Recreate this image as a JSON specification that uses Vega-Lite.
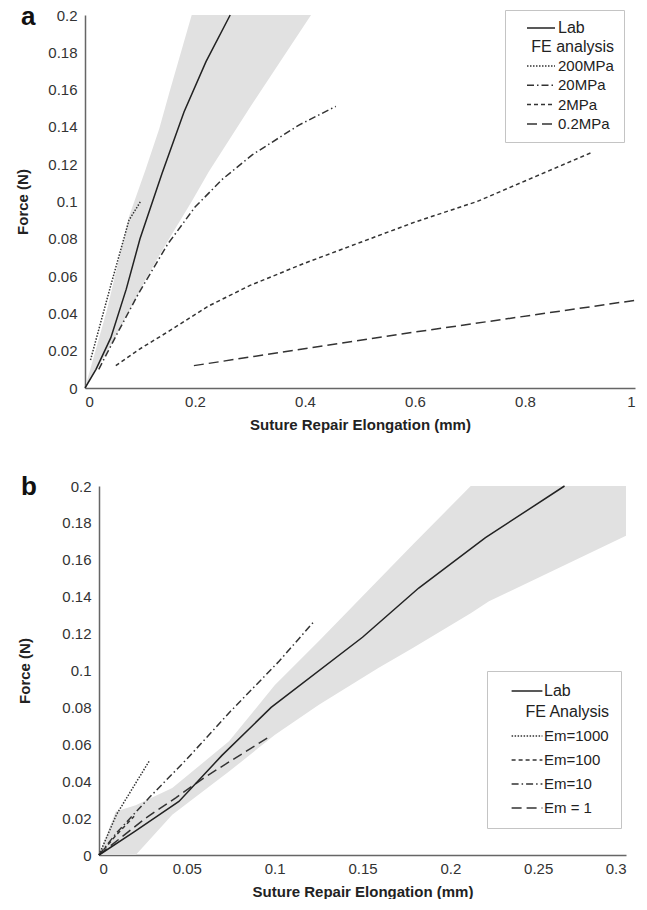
{
  "$schema": "https://vega.github.io/schema/vega-lite/v6.json",
  "background": "white",
  "padding": {"left": 15, "top": 4, "right": 0, "bottom": 0},
  "config": {
    "font": "Liberation Sans",
    "view": {"stroke": null},
    "axis": {"grid": false, "ticks": false, "labelOverlap": false, "domainColor": "#666", "domainWidth": 1.5, "labelFont": "Liberation Sans", "labelFontSize": 15, "labelColor": "#333", "titleFont": "Liberation Sans", "titleFontSize": 15, "titleFontWeight": "bold", "titleColor": "#222", "labelPadding": 8},
    "axisY": {"labelOverlap": false},
    "axisQuantitative": {"labelOverlap": false},
    "legend": {"labelFont": "Liberation Sans", "titleFont": "Liberation Sans"}
  },
  "datasets": {
    "bandA": [
      {"x": 0, "lo": 0, "hi": 0},
      {"x": 0.04, "lo": 0.019, "hi": 0.042},
      {"x": 0.08, "lo": 0.041, "hi": 0.092},
      {"x": 0.11, "lo": 0.058, "hi": 0.117},
      {"x": 0.135, "lo": 0.071, "hi": 0.139},
      {"x": 0.153, "lo": 0.08, "hi": 0.158},
      {"x": 0.194, "lo": 0.1, "hi": 0.2},
      {"x": 0.225, "lo": 0.116, "hi": 0.2},
      {"x": 0.301, "lo": 0.151, "hi": 0.2},
      {"x": 0.411, "lo": 0.2, "hi": 0.2}
    ],
    "labA": [
      {"x": 0, "y": 0}, {"x": 0.02, "y": 0.01}, {"x": 0.047, "y": 0.027}, {"x": 0.075, "y": 0.053},
      {"x": 0.1, "y": 0.08}, {"x": 0.14, "y": 0.115}, {"x": 0.18, "y": 0.148}, {"x": 0.22, "y": 0.175}, {"x": 0.264, "y": 0.2}
    ],
    "feA": [
      {"series": "200MPa", "x": 0.01, "y": 0.015}, {"series": "200MPa", "x": 0.045, "y": 0.053}, {"series": "200MPa", "x": 0.08, "y": 0.09}, {"series": "200MPa", "x": 0.101, "y": 0.1},
      {"series": "20MPa", "x": 0.025, "y": 0.01}, {"series": "20MPa", "x": 0.06, "y": 0.03}, {"series": "20MPa", "x": 0.098, "y": 0.051}, {"series": "20MPa", "x": 0.15, "y": 0.077}, {"series": "20MPa", "x": 0.2, "y": 0.097}, {"series": "20MPa", "x": 0.25, "y": 0.112}, {"series": "20MPa", "x": 0.304, "y": 0.125}, {"series": "20MPa", "x": 0.389, "y": 0.141}, {"series": "20MPa", "x": 0.456, "y": 0.151},
      {"series": "2MPa", "x": 0.056, "y": 0.012}, {"series": "2MPa", "x": 0.1, "y": 0.021}, {"series": "2MPa", "x": 0.15, "y": 0.03}, {"series": "2MPa", "x": 0.225, "y": 0.044}, {"series": "2MPa", "x": 0.3, "y": 0.055}, {"series": "2MPa", "x": 0.4, "y": 0.067}, {"series": "2MPa", "x": 0.5, "y": 0.078}, {"series": "2MPa", "x": 0.6, "y": 0.089}, {"series": "2MPa", "x": 0.713, "y": 0.1}, {"series": "2MPa", "x": 0.8, "y": 0.111}, {"series": "2MPa", "x": 0.919, "y": 0.126},
      {"series": "0.2MPa", "x": 0.198, "y": 0.012}, {"series": "0.2MPa", "x": 0.6, "y": 0.03}, {"series": "0.2MPa", "x": 1.0, "y": 0.047}
    ],
    "bandB": [
      {"x": 0, "lo": 0, "hi": 0},
      {"x": 0.0095, "lo": 0, "hi": 0.0236},
      {"x": 0.0209, "lo": 0, "hi": 0.027},
      {"x": 0.0417, "lo": 0.0218, "hi": 0.0363},
      {"x": 0.074, "lo": 0.0452, "hi": 0.0616},
      {"x": 0.1, "lo": 0.065, "hi": 0.092},
      {"x": 0.1252, "lo": 0.0815, "hi": 0.116},
      {"x": 0.159, "lo": 0.1014, "hi": 0.149},
      {"x": 0.1784, "lo": 0.112, "hi": 0.168},
      {"x": 0.2116, "lo": 0.131, "hi": 0.2},
      {"x": 0.222, "lo": 0.1375, "hi": 0.2},
      {"x": 0.3, "lo": 0.173, "hi": 0.2}
    ],
    "labB": [
      {"x": 0, "y": 0}, {"x": 0.02, "y": 0.0125}, {"x": 0.0455, "y": 0.029}, {"x": 0.07, "y": 0.054},
      {"x": 0.098, "y": 0.08}, {"x": 0.15, "y": 0.118}, {"x": 0.182, "y": 0.1447}, {"x": 0.22, "y": 0.172}, {"x": 0.265, "y": 0.2}
    ],
    "feB": [
      {"series": "Em=1000", "x": 0, "y": 0}, {"series": "Em=1000", "x": 0.01, "y": 0.022}, {"series": "Em=1000", "x": 0.0285, "y": 0.0508},
      {"series": "Em=100", "x": 0, "y": 0}, {"series": "Em=100", "x": 0.01, "y": 0.011}, {"series": "Em=100", "x": 0.02, "y": 0.021},
      {"series": "Em=10", "x": 0, "y": 0}, {"series": "Em=10", "x": 0.01, "y": 0.012}, {"series": "Em=10", "x": 0.0285, "y": 0.031}, {"series": "Em=10", "x": 0.05, "y": 0.052}, {"series": "Em=10", "x": 0.075, "y": 0.078}, {"series": "Em=10", "x": 0.1025, "y": 0.105}, {"series": "Em=10", "x": 0.1224, "y": 0.1266},
      {"series": "Em = 1", "x": 0, "y": 0}, {"series": "Em = 1", "x": 0.0266, "y": 0.02}, {"series": "Em = 1", "x": 0.0437, "y": 0.031}, {"series": "Em = 1", "x": 0.06, "y": 0.042}, {"series": "Em = 1", "x": 0.075, "y": 0.051}, {"series": "Em = 1", "x": 0.0958, "y": 0.0634}
    ]
  },
  "vconcat": [
    {
      "width": 550,
      "height": 373,
      "title": {"text": "a", "anchor": "start", "frame": "group", "fontSize": 26, "fontWeight": "bold", "color": "#111", "font": "Liberation Sans", "dx": -64, "dy": 20, "offset": -2},
      "layer": [
        {
          "data": {"name": "bandA"},
          "mark": {"type": "area", "color": "#e1e1e1", "opacity": 1},
          "encoding": {
            "x": {"field": "x", "type": "quantitative", "scale": {"domain": [0, 1]}, "axis": {"values": [0, 0.2, 0.4, 0.6, 0.8, 1], "format": "~g", "labelOverlap": false, "labelPadding": 6, "titlePadding": 8}, "title": "Suture Repair Elongation (mm)"},
            "y": {"field": "lo", "type": "quantitative", "scale": {"domain": [0, 0.2]}, "axis": {"values": [0, 0.02, 0.04, 0.06, 0.08, 0.1, 0.12, 0.14, 0.16, 0.18, 0.2], "tickCount": 11, "format": "~g", "labelOverlap": false, "titlePadding": 17}, "title": "Force (N)"},
            "y2": {"field": "hi"}
          }
        },
        {
          "data": {"name": "feA"},
          "mark": {"type": "line", "color": "#333", "strokeWidth": 1.5},
          "encoding": {
            "x": {"field": "x", "type": "quantitative"},
            "y": {"field": "y", "type": "quantitative"},
            "strokeDash": {
              "field": "series", "type": "nominal",
              "scale": {"domain": ["200MPa", "20MPa", "2MPa", "0.2MPa"], "range": [[1.5, 1.5], [7, 3, 1.5, 3], [4, 3], [10, 5]]},
              "legend": {"orient": "none", "legendX": 420, "legendY": -5, "title": ["", "FE analysis"], "titleFontSize": 16, "titleFontWeight": "normal", "titleColor": "#222", "titleLineHeight": 19, "titleAnchor": "end", "titleBaseline": "top", "titlePadding": 3, "padding": 10, "strokeColor": "#c4c4c4", "symbolType": "M-2,0H2", "symbolSize": 196, "symbolStrokeWidth": 1.5, "symbolStrokeColor": "#333", "symbolOffset": 18, "labelOffset": 9, "labelFontSize": 15, "labelColor": "#222", "rowPadding": 3.3}
            }
          }
        },
        {
          "data": {"name": "labA"},
          "mark": {"type": "line", "strokeWidth": 1.5},
          "encoding": {
            "x": {"field": "x", "type": "quantitative"},
            "y": {"field": "y", "type": "quantitative"},
            "color": {
              "datum": "Lab", "type": "nominal",
              "scale": {"domain": ["Lab"], "range": ["#222"]},
              "legend": {"orient": "none", "legendX": 420, "legendY": -5, "title": null, "padding": 10, "symbolType": "M-2,0H2", "symbolSize": 196, "symbolStrokeWidth": 1.5, "symbolOffset": 18, "labelOffset": 9, "labelFontSize": 16, "labelColor": "#222"}
            }
          }
        }
      ]
    },
    {
      "width": 541,
      "height": 369,
      "title": {"text": "b", "anchor": "start", "frame": "group", "fontSize": 26, "fontWeight": "bold", "color": "#111", "font": "Liberation Sans", "dx": -64, "dy": 19, "offset": -2},
      "layer": [
        {
          "data": {"name": "bandB"},
          "mark": {"type": "area", "color": "#e1e1e1", "opacity": 1},
          "encoding": {
            "x": {"field": "x", "type": "quantitative", "scale": {"domain": [0, 0.3], "rangeMin": 14}, "axis": {"values": [0, 0.05, 0.1, 0.15, 0.2, 0.25, 0.3], "format": "~g", "labelOverlap": false, "labelPadding": 6, "titlePadding": 8}, "title": "Suture Repair Elongation (mm)"},
            "y": {"field": "lo", "type": "quantitative", "scale": {"domain": [0, 0.2]}, "axis": {"values": [0, 0.02, 0.04, 0.06, 0.08, 0.1, 0.12, 0.14, 0.16, 0.18, 0.2], "tickCount": 11, "format": "~g", "labelOverlap": false, "offset": -14, "titlePadding": 29}, "title": "Force (N)"},
            "y2": {"field": "hi"}
          }
        },
        {
          "data": {"name": "feB"},
          "mark": {"type": "line", "color": "#333", "strokeWidth": 1.5},
          "encoding": {
            "x": {"field": "x", "type": "quantitative"},
            "y": {"field": "y", "type": "quantitative"},
            "strokeDash": {
              "field": "series", "type": "nominal",
              "scale": {"domain": ["Em=1000", "Em=100", "Em=10", "Em = 1"], "range": [[1.5, 1.5], [4, 3], [7, 3, 1.5, 3], [10, 5]]},
              "legend": {"orient": "none", "legendX": 402, "legendY": 185, "title": ["", "FE Analysis"], "titleFontSize": 16, "titleFontWeight": "normal", "titleColor": "#222", "titleLineHeight": 21, "titleAnchor": "end", "titleBaseline": "top", "titlePadding": 8, "padding": 12, "strokeColor": "#c4c4c4", "symbolType": "M-2.2,0H2.2", "symbolSize": 196, "symbolStrokeWidth": 1.5, "symbolStrokeColor": "#333", "symbolOffset": 20, "labelOffset": 9, "labelFontSize": 15, "labelColor": "#222", "rowPadding": 8}
            }
          }
        },
        {
          "data": {"name": "labB"},
          "mark": {"type": "line", "strokeWidth": 1.5},
          "encoding": {
            "x": {"field": "x", "type": "quantitative"},
            "y": {"field": "y", "type": "quantitative"},
            "color": {
              "datum": "Lab", "type": "nominal",
              "scale": {"domain": ["Lab"], "range": ["#222"]},
              "legend": {"orient": "none", "legendX": 402, "legendY": 185, "title": null, "padding": 12, "symbolType": "M-2.2,0H2.2", "symbolSize": 196, "symbolStrokeWidth": 1.5, "symbolOffset": 20, "labelOffset": 9, "labelFontSize": 16, "labelColor": "#222"}
            }
          }
        }
      ]
    }
  ],
  "spacing": 42,
  "resolve": {"scale": {"color": "independent", "strokeDash": "independent", "x": "independent", "y": "independent"}}
}
